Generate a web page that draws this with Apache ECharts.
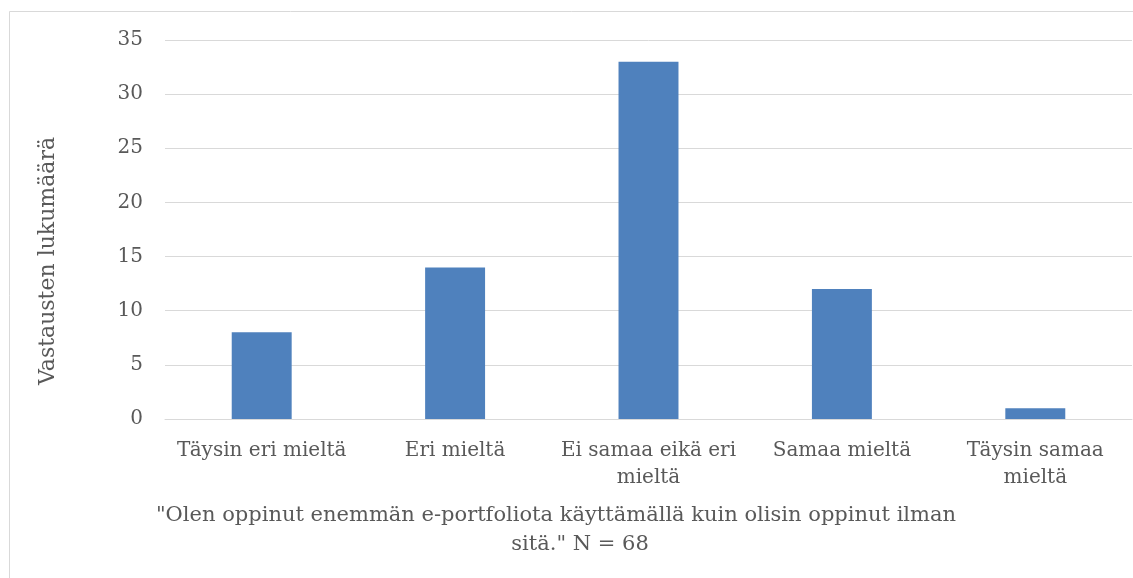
<!DOCTYPE html>
<html>
<head>
<meta charset="utf-8">
<script src="https://cdn.jsdelivr.net/npm/echarts@6/dist/echarts.min.js"></script>
<style>
html,body{margin:0;padding:0;background:#fff;}
#c{width:1133px;height:578px;}
</style>
</head>
<body>
<div id="c"></div>
<script>
const categories = ['Täysin eri mieltä', 'Eri mieltä', 'Ei samaa eikä eri\nmieltä', 'Samaa mieltä', 'Täysin samaa\nmieltä'];
const values = [8, 14, 33, 12, 1];
const yAxisTitle = 'Vastausten lukumäärä';
const xAxisTitleLines = ['"Olen oppinut enemmän e-portfoliota käyttämällä kuin olisin oppinut ilman', 'sitä." N = 68'];
const yMin = 0, yMax = 35, yStep = 5;

const FONT = '"DejaVu Serif", "Liberation Serif", serif';
const TXT = '#595959';
const GRID = '#d9d9d9';

const chart = echarts.init(document.getElementById('c'), null, {renderer: 'canvas'});
chart.setOption({
  animation: false,
  backgroundColor: '#fff',
  grid: {left: 165, right: 1, top: 40, bottom: 159, containLabel: false},
  xAxis: {
    type: 'category',
    data: categories,
    axisLine: {show: true, lineStyle: {color: GRID, width: 1}},
    axisTick: {show: false},
    axisLabel: {interval: 0, color: TXT, fontFamily: FONT, fontSize: 20, lineHeight: 27, margin: 18}
  },
  yAxis: {
    type: 'value',
    min: yMin, max: yMax, interval: yStep,
    axisLine: {show: false},
    axisTick: {show: false},
    splitLine: {lineStyle: {color: GRID, width: 1}},
    axisLabel: {color: TXT, fontFamily: FONT, fontSize: 20, margin: 22}
  },
  series: [{
    type: 'bar',
    data: values,
    barWidth: '31%',
    itemStyle: {color: '#4F81BD'}
  }],
  graphic: [
    {type: 'rect', shape: {x: 9.5, y: 11.5, width: 1300, height: 800}, style: {fill: 'none', stroke: GRID, lineWidth: 1}, z: -1, silent: true},
    {type: 'text', x: 48, y: 261, rotation: Math.PI / 2,
     style: {text: yAxisTitle, fill: TXT, font: '22px ' + FONT, textAlign: 'center', textVerticalAlign: 'middle'}},
    {type: 'text', x: 556, y: 516,
     style: {text: xAxisTitleLines[0], fill: TXT, font: '21px ' + FONT, textAlign: 'center', textVerticalAlign: 'middle'}},
    {type: 'text', x: 580, y: 545,
     style: {text: xAxisTitleLines[1], fill: TXT, font: '21px ' + FONT, textAlign: 'center', textVerticalAlign: 'middle'}}
  ]
});
</script>
</body>
</html>
